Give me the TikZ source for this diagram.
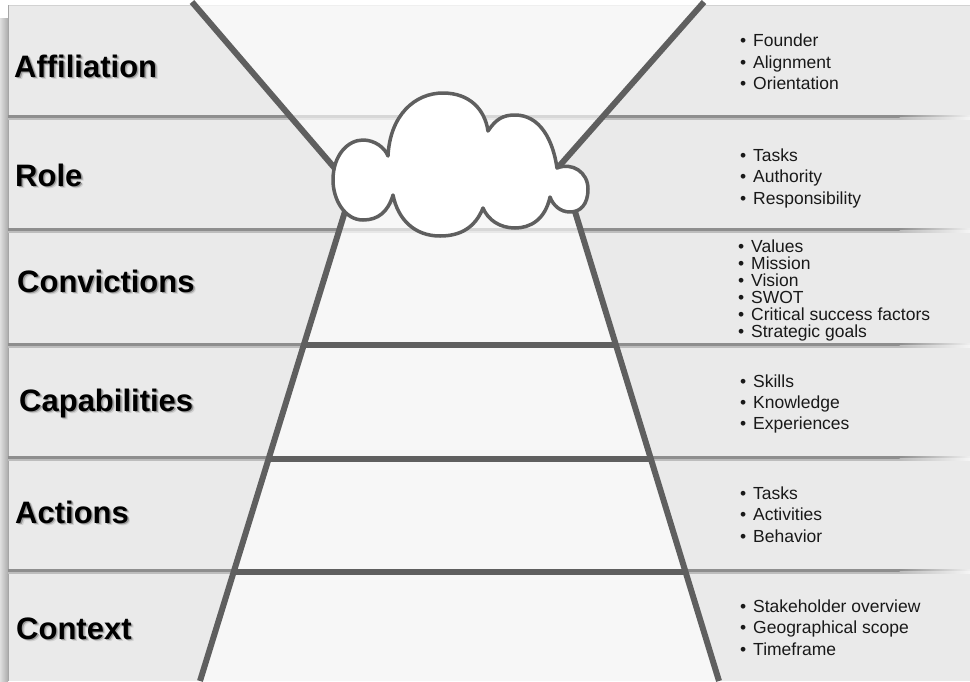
\documentclass[tikz,border=0pt]{standalone}
\usepackage{fontspec}
\setmainfont{Liberation Sans}
\definecolor{bandfill}{HTML}{EAEAEA}
\definecolor{funnelcol}{HTML}{5F5F5F}
\definecolor{sepcol}{HTML}{8E8E8E}
\definecolor{seplight}{HTML}{BDBDBD}
\newcommand\shtext[1]{%
  \rlap{\hspace*{2.6pt}\raisebox{-2.6pt}{\textcolor{black!18}{#1}}}%
  \rlap{\hspace*{1.4pt}\raisebox{-1.4pt}{\textcolor{black!40}{#1}}}#1}
\newcommand\shlabel[4]{\node[lbl] (#1) at (#2,#3) {\shtext{#4}};}
\newcommand\bullist[5]{%
  \foreach \t [count=\i from 0] in {#5} {\node[bul] (#1\i) at (#2, #3+#4*\i) {\makebox[13pt][l]{\textbullet}\t};}}
\begin{document}
\begin{tikzpicture}[x=1pt,y=-1pt,
  funnelline/.style={draw=funnelcol, line width=6pt},
  lbl/.style={font=\fontsize{31}{31}\selectfont\bfseries, anchor=base west, inner sep=0pt},
  bul/.style={font=\fontsize{17.5}{17.5}\selectfont, anchor=base west, inner sep=0pt, text=black!90}]
\useasboundingbox (0,0) rectangle (970,681);
\fill[white] (0,0) rectangle (970,681);
% left shadow
\shade[left color=gray!25, right color=gray!65] (0,18) rectangle (8,681);
% bands
\foreach \t/\b in {5/115, 120/228, 233/343, 347/456, 461/569, 574/681}
  \fill[bandfill] (8,\t) rectangle (970,\b);
\draw[gray!35, line width=0.8pt] (8,5) -- (970,5);
\draw[gray!70, line width=0.8pt] (8.4,5) -- (8.4,681);
% separators
\foreach \y in {115,228,343,456,569} {
  \fill[sepcol] (8,\y) rectangle (900,\y+2.5);
  \fill[seplight] (8,\y+2.5) rectangle (900,\y+4.5);
  \shade[left color=sepcol, right color=gray!12] (899.5,\y) rectangle (970,\y+2.5);
  \shade[left color=seplight, right color=gray!8] (899.5,\y+2.5) rectangle (970,\y+4.5);
}
% funnel coordinates
\coordinate (tl0) at (192,2);
\coordinate (tl1) at (338,172);
\coordinate (tr0) at (704,2);
\coordinate (tr1) at (554,172);
\coordinate (bl0) at (347,205);
\coordinate (bl1) at (200,681);
\coordinate (br0) at (573,205);
\coordinate (br1) at (719,681);
\coordinate (r1l) at (303.8,345);
\coordinate (r1r) at (615.9,345);
\coordinate (r2l) at (268.6,459);
\coordinate (r2r) at (650.9,459);
\coordinate (r3l) at (233.7,572);
\coordinate (r3r) at (685.6,572);
% funnel interiors
\fill[white, opacity=0.65] (tl0) -- (tr0) -- (tr1) -- (tl1) -- cycle;
\fill[white, opacity=0.65] (bl0) -- (br0) -- (br1) -- (bl1) -- cycle;
% funnel lines
\draw[funnelline] (tl0) -- (tl1);
\draw[funnelline] (tr0) -- (tr1);
\draw[funnelline] (bl0) -- (bl1);
\draw[funnelline] (br0) -- (br1);
\draw[funnelline] (r1l) -- (r1r);
\draw[funnelline] (r2l) -- (r2r);
\draw[funnelline] (r3l) -- (r3r);
% cloud
\draw[draw=funnelcol, line width=3.5pt, fill=white, line join=round]
  (388,156) .. controls (390,115) and (415,93) .. (443,93)
  .. controls (470,93) and (485,110) .. (488,131)
  .. controls (496,119) and (503,115) .. (515,115)
  .. controls (540,115) and (553,140) .. (557,168)
  .. controls (572,162) and (588,172) .. (588,189)
  .. controls (588,205) and (580,212) .. (570,212)
  .. controls (560,212) and (553,205) .. (550,197)
  .. controls (545,220) and (530,228) .. (515,228)
  .. controls (500,228) and (488,220) .. (483,208)
  .. controls (475,228) and (460,236) .. (440,236)
  .. controls (415,236) and (398,220) .. (393,195)
  .. controls (388,212) and (378,220) .. (363,220)
  .. controls (345,220) and (333,200) .. (333,180)
  .. controls (333,155) and (348,140) .. (363,140)
  .. controls (375,140) and (385,148) .. cycle;
% left labels
\shlabel{aff}{14}{77}{Affiliation}
\shlabel{role}{15}{186}{Role}
\shlabel{conv}{17}{292}{Convictions}
\shlabel{cap}{19}{411}{Capabilities}
\shlabel{act}{15}{523}{Actions}
\shlabel{ctx}{16}{639}{Context}
% right lists
\bullist{la}{740}{46.5}{21.5}{Founder,Alignment,Orientation}
\bullist{lr}{740}{161}{21.5}{Tasks,Authority,Responsibility}
\bullist{lc}{738}{252}{17}{Values,Mission,Vision,SWOT,Critical success factors,Strategic goals}
\bullist{lk}{740}{387}{21}{Skills,Knowledge,Experiences}
\bullist{lt}{740}{499}{21.5}{Tasks,Activities,Behavior}
\bullist{lx}{740}{612}{21.5}{Stakeholder overview,Geographical scope,Timeframe}
\end{tikzpicture}
\end{document}
